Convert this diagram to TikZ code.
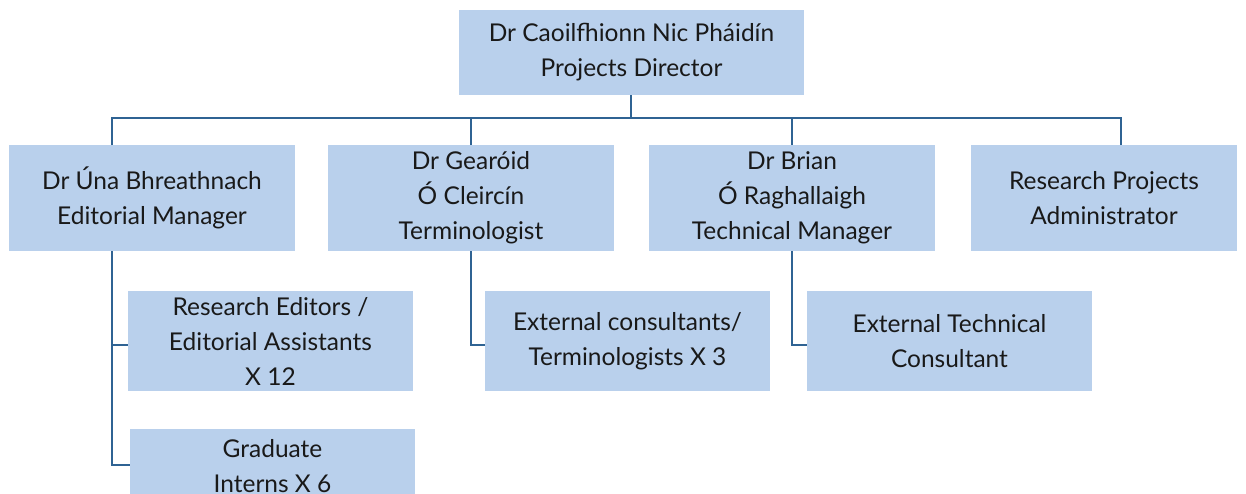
\documentclass[tikz,border=0pt]{standalone}
\usepackage{fontspec}
\setmainfont{Lato}
\definecolor{boxfill}{HTML}{B9D0EC}
\definecolor{linec}{HTML}{2F6393}
\begin{document}
\begin{tikzpicture}[x=1pt,y=-1pt,
  box/.style={fill=boxfill, draw=none, inner sep=0pt, align=center,
    font=\fontsize{24.5}{35}\selectfont, text=black!90},
  conn/.style={draw=linec, line width=1.2pt}]
\useasboundingbox (0,0) rectangle (1246,493);
\begin{scope}
\clip (0,0) rectangle (1246,493);
\node[box, minimum width=345pt, minimum height=85pt] (top) at (631.5,52.5) {Dr Caoilfhionn Nic Pháidín\\Projects Director};
\node[box, minimum width=286pt, minimum height=106pt] (a) at (152,198) {Dr Úna Bhreathnach\\Editorial Manager};
\node[box, minimum width=286pt, minimum height=106pt] (b) at (471,198) {Dr Gearóid\\Ó Cleircín\\Terminologist};
\node[box, minimum width=286pt, minimum height=106pt] (c) at (792,198) {Dr Brian\\Ó Raghallaigh\\Technical Manager};
\node[box, minimum width=266pt, minimum height=106pt] (d) at (1104,198) {Research Projects\\Administrator};
\node[box, minimum width=285pt, minimum height=100pt] (a1) at (270.5,341) {Research Editors /\\Editorial Assistants\\X 12};
\node[box, minimum width=285pt, minimum height=74pt] (a2) at (272.5,466) {Graduate\\Interns X 6};
\node[box, minimum width=285pt, minimum height=100pt] (b1) at (627.5,341) {External consultants/\\Terminologists X 3};
\node[box, minimum width=285pt, minimum height=100pt] (c1) at (949.5,341) {External Technical\\Consultant};
\coordinate (hub) at (631,118);
\draw[conn] (top.south -| hub) -- (hub);
\draw[conn] (112,145) |- (1121,118) -- (1121,145);
\draw[conn] (471,118) -- (b.north);
\draw[conn] (792,118) -- (c.north -| 792,0);
\draw[conn] (a.south -| 112,0) |- (a2.west |- 0,465);
\draw[conn] (112,345) -- (a1.west |- 0,345);
\draw[conn] (b.south) |- (b1.west |- 0,345);
\draw[conn] (c.south) |- (c1.west |- 0,345);
\end{scope}
\end{tikzpicture}
\end{document}
